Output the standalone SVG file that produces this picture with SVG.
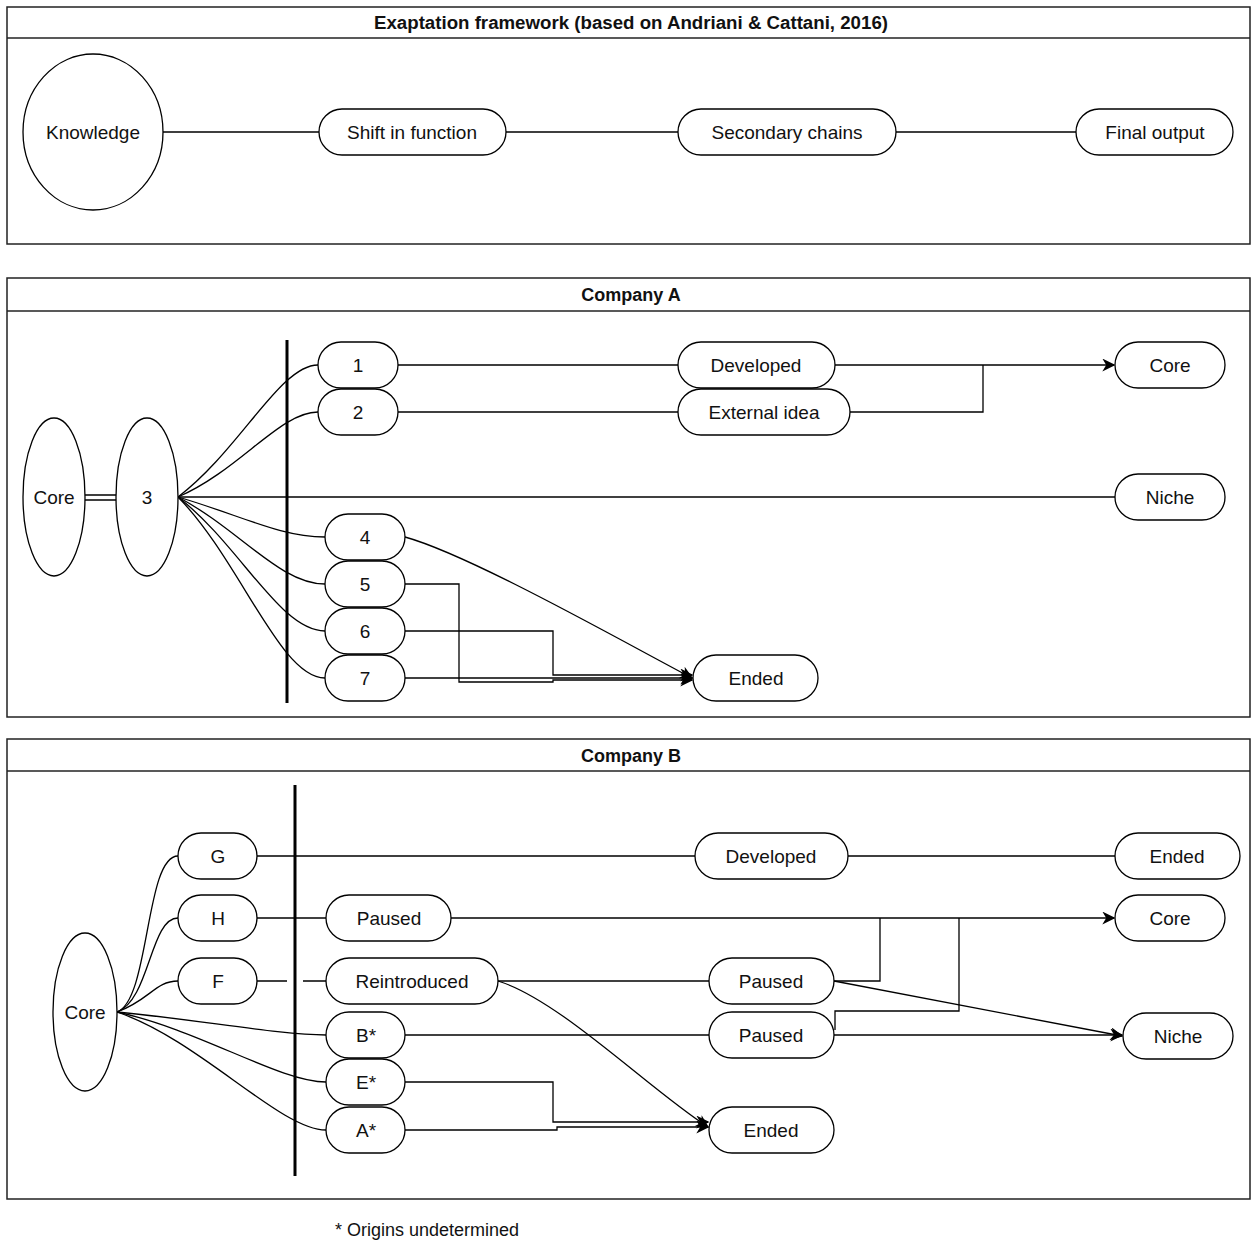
<svg xmlns="http://www.w3.org/2000/svg" width="1253" height="1241" viewBox="0 0 1253 1241">
<style>
.pan{fill:#fff;stroke:#222;stroke-width:1.5}
.hl{stroke:#222;stroke-width:1.5}
.n{fill:#fff;stroke:#000;stroke-width:1.3}
.t{font-family:"Liberation Sans",Arial,sans-serif;font-size:19px;fill:#111;text-anchor:middle;dominant-baseline:central}
.h{font-family:"Liberation Sans",Arial,sans-serif;font-size:18px;font-weight:bold;fill:#111;text-anchor:middle;dominant-baseline:central}
.e{fill:none;stroke:#000;stroke-width:1.3}
.a{marker-end:url(#arr)}
.bar{stroke:#000;stroke-width:3}
</style>
<defs>
<marker id="arr" viewBox="0 0 10 10" refX="9" refY="5" markerWidth="13" markerHeight="13" markerUnits="userSpaceOnUse" orient="auto">
<path d="M0,0 L10,5 L0,10 L3,5 z" fill="#000"/>
</marker>
</defs>
<rect width="1253" height="1241" fill="#fff"/>

<g id="panel-top">
<rect class="pan" x="7" y="7" width="1243" height="237"/>
<line class="hl" x1="7" y1="38" x2="1250" y2="38"/>
<text class="h" x="631" y="23" textLength="514" lengthAdjust="spacingAndGlyphs">Exaptation framework (based on Andriani &amp; Cattani, 2016)</text>
</g>
<g id="panel-a">
<rect class="pan" x="7" y="278" width="1243" height="439"/>
<line class="hl" x1="7" y1="311" x2="1250" y2="311"/>
<text class="h" x="631" y="295">Company A</text>
</g>
<g id="panel-b">
<rect class="pan" x="7" y="739" width="1243" height="460"/>
<line class="hl" x1="7" y1="771" x2="1250" y2="771"/>
<text class="h" x="631" y="756">Company B</text>
</g>

<g id="connectors">
<path class="e" d="M163,132 H319 M506,132 H678 M896,132 H1076"/>
<line class="bar" x1="287" y1="340" x2="287" y2="703"/>
<path class="e" d="M85,495 H116 M85,500 H116"/>
<path class="e" d="M178,497 C240,450 280,365 318,365"/>
<path class="e" d="M178,497 C240,470 280,412 318,412"/>
<path class="e" d="M178,497 H1115"/>
<path class="e" d="M178,497 C240,515 280,537 325,537"/>
<path class="e" d="M178,497 C240,530 280,584 325,584"/>
<path class="e" d="M178,497 C240,545 280,631 325,631"/>
<path class="e" d="M178,497 C240,560 280,678 325,678"/>
<path class="e" d="M398,365 H678 M398,412 H678"/>
<path class="e a" d="M835,365 H1114"/>
<path class="e" d="M850,412 H983 V365"/>
<path class="e a" d="M405,537 C470,555 620,640 692,678"/>
<path class="e a" d="M405,584 H459 V682 H553 V680 H692"/>
<path class="e a" d="M405,631 H553 V675 H692"/>
<path class="e a" d="M405,678 H692"/>
<line class="bar" x1="295" y1="785" x2="295" y2="1176"/>
<path class="e" d="M117,1012 C150,1000 145,856 178,856"/>
<path class="e" d="M117,1012 C150,1000 150,918 178,918"/>
<path class="e" d="M117,1012 C150,1000 155,981 178,981"/>
<path class="e" d="M117,1012 C200,1020 280,1035 326,1035"/>
<path class="e" d="M117,1012 C200,1030 280,1082 326,1082"/>
<path class="e" d="M117,1012 C200,1040 280,1130 326,1130"/>
<path class="e" d="M257,856 H695 M848,856 H1115"/>
<path class="e" d="M257,918 H326"/>
<path class="e" d="M257,981 H287 M303,981 H326"/>
<path class="e" d="M498,981 H709"/>
<path class="e" d="M405,1035 H709"/>
<path class="e a" d="M451,918 H1114"/>
<path class="e" d="M834,981 H880 V918"/>
<path class="e" d="M835,1030 V1011 H959 V918"/>
<path class="e a" d="M834,981 L1122,1036"/>
<path class="e a" d="M834,1035 H1122"/>
<path class="e a" d="M498,981 C560,1000 650,1090 708,1127"/>
<path class="e a" d="M405,1082 H553 V1122 H708"/>
<path class="e a" d="M405,1130 H557 V1127 H708"/>
</g>

<g id="knowledge"><ellipse class="n" cx="93" cy="132" rx="70" ry="78"/><text class="t" x="93" y="132">Knowledge</text></g>
<g id="shift"><rect class="n" x="319" y="109" width="187" height="46" rx="23"/><text class="t" x="412" y="132">Shift in function</text></g>
<g id="secondary"><rect class="n" x="678" y="109" width="218" height="46" rx="23"/><text class="t" x="787" y="132">Secondary chains</text></g>
<g id="final"><rect class="n" x="1076" y="109" width="157" height="46" rx="23"/><text class="t" x="1155" y="132">Final output</text></g>

<g id="a-core"><ellipse class="n" cx="54" cy="497" rx="31" ry="79"/><text class="t" x="54" y="497">Core</text></g>
<g id="a-3"><ellipse class="n" cx="147" cy="497" rx="31" ry="79"/><text class="t" x="147" y="497">3</text></g>
<g id="a-1"><rect class="n" x="318" y="342" width="80" height="46" rx="23"/><text class="t" x="358" y="365">1</text></g>
<g id="a-2"><rect class="n" x="318" y="389" width="80" height="46" rx="23"/><text class="t" x="358" y="412">2</text></g>
<g id="a-4"><rect class="n" x="325" y="514" width="80" height="46" rx="23"/><text class="t" x="365" y="537">4</text></g>
<g id="a-5"><rect class="n" x="325" y="561" width="80" height="46" rx="23"/><text class="t" x="365" y="584">5</text></g>
<g id="a-6"><rect class="n" x="325" y="608" width="80" height="46" rx="23"/><text class="t" x="365" y="631">6</text></g>
<g id="a-7"><rect class="n" x="325" y="655" width="80" height="46" rx="23"/><text class="t" x="365" y="678">7</text></g>
<g id="a-developed"><rect class="n" x="678" y="342" width="157" height="46" rx="23"/><text class="t" x="756" y="365">Developed</text></g>
<g id="a-external"><rect class="n" x="678" y="389" width="172" height="46" rx="23"/><text class="t" x="764" y="412">External idea</text></g>
<g id="a-core-out"><rect class="n" x="1115" y="342" width="110" height="46" rx="23"/><text class="t" x="1170" y="365">Core</text></g>
<g id="a-niche"><rect class="n" x="1115" y="474" width="110" height="46" rx="23"/><text class="t" x="1170" y="497">Niche</text></g>
<g id="a-ended"><rect class="n" x="693" y="655" width="125" height="46" rx="23"/><text class="t" x="756" y="678">Ended</text></g>

<g id="b-core"><ellipse class="n" cx="85" cy="1012" rx="32" ry="79"/><text class="t" x="85" y="1012">Core</text></g>
<g id="b-g"><rect class="n" x="178" y="833" width="79" height="46" rx="23"/><text class="t" x="218" y="856">G</text></g>
<g id="b-h"><rect class="n" x="178" y="895" width="79" height="46" rx="23"/><text class="t" x="218" y="918">H</text></g>
<g id="b-f"><rect class="n" x="178" y="958" width="79" height="46" rx="23"/><text class="t" x="218" y="981">F</text></g>
<g id="b-b"><rect class="n" x="326" y="1012" width="79" height="46" rx="23"/><text class="t" x="366" y="1035">B*</text></g>
<g id="b-e"><rect class="n" x="326" y="1059" width="79" height="46" rx="23"/><text class="t" x="366" y="1082">E*</text></g>
<g id="b-a"><rect class="n" x="326" y="1107" width="79" height="46" rx="23"/><text class="t" x="366" y="1130">A*</text></g>
<g id="b-paused-h"><rect class="n" x="326" y="895" width="125" height="46" rx="23"/><text class="t" x="389" y="918">Paused</text></g>
<g id="b-reintro"><rect class="n" x="326" y="958" width="172" height="46" rx="23"/><text class="t" x="412" y="981">Reintroduced</text></g>
<g id="b-developed"><rect class="n" x="695" y="833" width="153" height="46" rx="23"/><text class="t" x="771" y="856">Developed</text></g>
<g id="b-paused1"><rect class="n" x="709" y="958" width="125" height="46" rx="23"/><text class="t" x="771" y="981">Paused</text></g>
<g id="b-paused2"><rect class="n" x="709" y="1012" width="125" height="46" rx="23"/><text class="t" x="771" y="1035">Paused</text></g>
<g id="b-ended-top"><rect class="n" x="1115" y="833" width="125" height="46" rx="23"/><text class="t" x="1177" y="856">Ended</text></g>
<g id="b-core-out"><rect class="n" x="1115" y="895" width="110" height="46" rx="23"/><text class="t" x="1170" y="918">Core</text></g>
<g id="b-niche"><rect class="n" x="1123" y="1013" width="110" height="46" rx="23"/><text class="t" x="1178" y="1036">Niche</text></g>
<g id="b-ended"><rect class="n" x="709" y="1107" width="125" height="46" rx="23"/><text class="t" x="771" y="1130">Ended</text></g>

<text x="335" y="1236" font-family="Liberation Sans, Arial, sans-serif" font-size="18" fill="#111">* Origins undetermined</text>
</svg>
